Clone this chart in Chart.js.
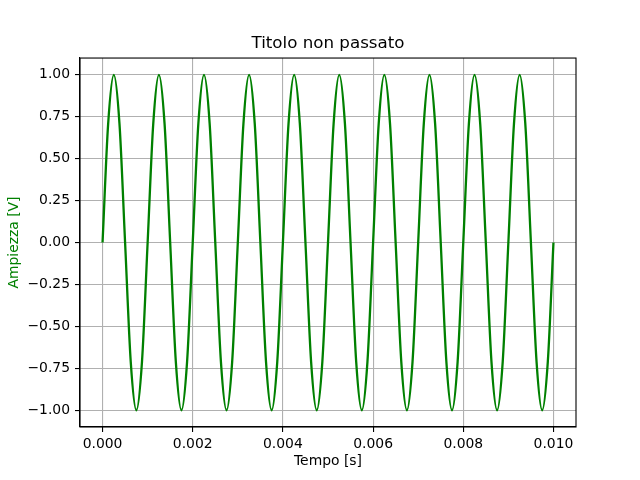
<!DOCTYPE html>
<html>
<head>
<meta charset="utf-8">
<script src="https://cdn.jsdelivr.net/npm/chart.js@4.4.1/dist/chart.umd.min.js"></script>
<style>
  html, body { margin:0; padding:0; background:#fff; }
  #wrap { width:640px; height:480px; }
</style>
</head>
<body>
<div id="wrap"><canvas id="c" width="640" height="480"></canvas></div>
<script>
// campioni (tempo in s, ampiezza in V)
const tempo = [
  0.000000, 0.000125, 0.000250, 0.000375, 0.000500, 0.000625, 0.000750, 0.000875,
  0.001000, 0.001125, 0.001250, 0.001375, 0.001500, 0.001625, 0.001750, 0.001875,
  0.002000, 0.002125, 0.002250, 0.002375, 0.002500, 0.002625, 0.002750, 0.002875,
  0.003000, 0.003125, 0.003250, 0.003375, 0.003500, 0.003625, 0.003750, 0.003875,
  0.004000, 0.004125, 0.004250, 0.004375, 0.004500, 0.004625, 0.004750, 0.004875,
  0.005000, 0.005125, 0.005250, 0.005375, 0.005500, 0.005625, 0.005750, 0.005875,
  0.006000, 0.006125, 0.006250, 0.006375, 0.006500, 0.006625, 0.006750, 0.006875,
  0.007000, 0.007125, 0.007250, 0.007375, 0.007500, 0.007625, 0.007750, 0.007875,
  0.008000, 0.008125, 0.008250, 0.008375, 0.008500, 0.008625, 0.008750, 0.008875,
  0.009000, 0.009125, 0.009250, 0.009375, 0.009500, 0.009625, 0.009750, 0.009875,
  0.010000
];
const ampiezza = [
  0, 0.71, 1, 0.71, 0, -0.71, -1, -0.71,
  0, 0.71, 1, 0.71, 0, -0.71, -1, -0.71,
  0, 0.71, 1, 0.71, 0, -0.71, -1, -0.71,
  0, 0.71, 1, 0.71, 0, -0.71, -1, -0.71,
  0, 0.71, 1, 0.71, 0, -0.71, -1, -0.71,
  0, 0.71, 1, 0.71, 0, -0.71, -1, -0.71,
  0, 0.71, 1, 0.71, 0, -0.71, -1, -0.71,
  0, 0.71, 1, 0.71, 0, -0.71, -1, -0.71,
  0, 0.71, 1, 0.71, 0, -0.71, -1, -0.71,
  0, 0.71, 1, 0.71, 0, -0.71, -1, -0.71,
  0
];
const xTicks = [0, 0.002, 0.004, 0.006, 0.008, 0.010];
const yTicks = [-1, -0.75, -0.5, -0.25, 0, 0.25, 0.5, 0.75, 1];

const FONT = 'DejaVu Sans';
const minus = s => s.replace('-', '\u2212');

// cornice completa attorno all'area del grafico
const frame = {
  id: 'frame',
  afterDraw(chart){
    const {ctx, chartArea:a} = chart;
    ctx.save();
    ctx.strokeStyle = '#000'; ctx.lineWidth = 1.1;
    ctx.strokeRect(a.left, a.top, a.right - a.left, a.bottom - a.top);
    ctx.restore();
  }
};

new Chart(document.getElementById('c'), {
  type: 'line',
  data: {
    datasets: [{
      data: tempo.map((t, i) => ({x: t, y: ampiezza[i]})),
      borderColor: '#008000',
      borderWidth: 2.3,
      pointRadius: 0,
      cubicInterpolationMode: 'monotone',
      fill: false
    }]
  },
  options: {
    responsive: false,
    animation: false,
    layout: { padding: { left: 0, right: 64, top: 0, bottom: 0 } },
    plugins: {
      legend: { display: false },
      tooltip: { enabled: false },
      title: {
        display: true,
        fullSize: false,
        text: 'Titolo non passato',
        color: '#000',
        font: { family: FONT, size: 16.7, weight: 'normal' },
        padding: { top: 34, bottom: 4 }
      }
    },
    scales: {
      x: {
        type: 'linear',
        min: -0.0005, max: 0.0105,
        afterBuildTicks: s => { s.ticks = xTicks.map(v => ({value: v})); },
        afterFit: s => { s.height = 53; },
        grid: { color: '#b0b0b0', lineWidth: 1.1, tickColor: '#000', tickLength: 5, drawTicks: true },
        border: { display: true, color: '#000', width: 1.1 },
        ticks: {
          color: '#000', padding: 4, maxRotation: 0,
          font: { family: FONT, size: 13.9 },
          callback: v => minus(v.toFixed(3))
        },
        title: {
          display: true, text: 'Tempo [s]', color: '#000',
          font: { family: FONT, size: 13.9 }, padding: 10
        }
      },
      y: {
        type: 'linear',
        min: -1.1, max: 1.1,
        afterBuildTicks: s => { s.ticks = yTicks.map(v => ({value: v})); },
        afterFit: s => { s.width = 80; },
        grid: { color: '#b0b0b0', lineWidth: 1.1, tickColor: '#000', tickLength: 5, drawTicks: true },
        border: { display: true, color: '#000', width: 1.1 },
        ticks: {
          color: '#000', padding: 5,
          font: { family: FONT, size: 13.9 },
          callback: v => minus(v.toFixed(2))
        },
        title: {
          display: true, text: 'Ampiezza [V]', color: '#008000',
          font: { family: FONT, size: 13.9 }, padding: 6
        }
      }
    }
  },
  plugins: [frame]
});
</script>
</body>
</html>
